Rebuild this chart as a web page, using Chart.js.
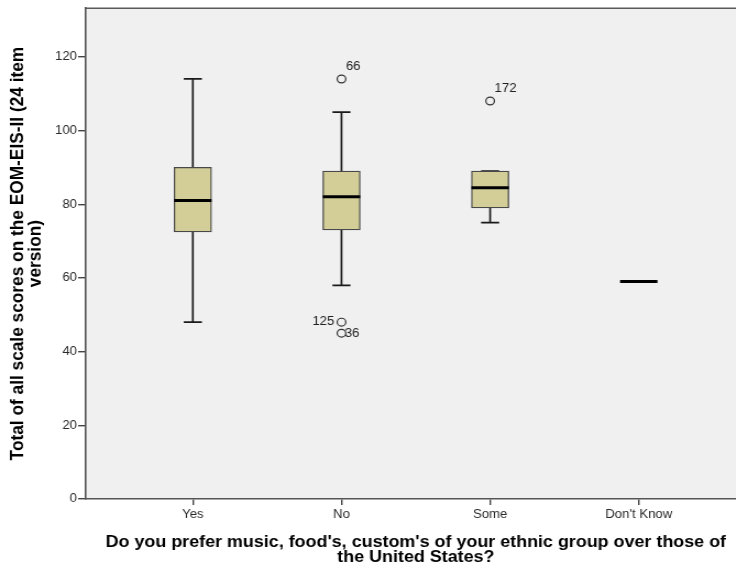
<!DOCTYPE html>
<html>
<head>
<meta charset="utf-8">
<script src="https://cdn.jsdelivr.net/npm/chart.js@4/dist/chart.umd.min.js"></script>
<style>
  html, body { margin: 0; padding: 0; background: #ffffff; overflow: hidden; }
  body { width: 736px; height: 569px; }
  /* the figure is drawn on a narrower canvas and widened horizontally */
  #frame { width: 678px; height: 569px; transform: scaleX(1.1); transform-origin: 0 0; }
  #chart { display: block; }
</style>
</head>
<body>
<div id="frame"><canvas id="chart" width="678" height="569"></canvas></div>
<script>
// Groups on the category axis
const categories = ['Yes', 'No', 'Some', "Don't Know"];

// Five-number summaries per group
const whiskerLow  = [48, 58, 75, 59];
const boxLow      = [72.5, 73, 79, 59];
const medians     = [81, 82, 84.5, 59];
const boxHigh     = [90, 89, 89, 59];
const whiskerHigh = [114, 105, 89, 59];

// Outlying cases: group index, score and case number
const outlierGroup  = [1, 1, 1, 2];
const outlierValues = [114, 48, 45, 108];
const outlierIds    = ['66', '125', '36', '172'];

// Tick labels of the value axis
const yTickValues = [0, 20, 40, 60, 80, 100, 120];

const yTitle = ['Total of all scale scores on the EOM-EIS-II (24 item', 'version)'];
const xTitle = ["Do you prefer music, food's, custom's of your ethnic group over those of", 'the United States?'];

Chart.defaults.font.family = "'Liberation Sans', Arial, Helvetica, sans-serif";
Chart.defaults.color = '#222222';

const BOX_FILL = '#d3ce97';
const LINE = '#1a1a1a';

// Boxes (q1..q3) as floating bars; groups without spread get no box
const boxData = categories
  .map((c, i) => (boxHigh[i] > boxLow[i] ? { x: i, y: [boxLow[i], boxHigh[i]] } : null))
  .filter(d => d !== null);

// Whisker stems from minimum to maximum, drawn underneath the boxes
const whiskerSets = categories.map((c, i) => ({
  type: 'line',
  data: [{ x: i, y: whiskerLow[i] }, { x: i, y: whiskerHigh[i] }],
  borderColor: LINE,
  borderWidth: 1.7,
  pointRadius: 0,
  fill: false,
  order: 6
}));

const capData = [];
categories.forEach((c, i) => {
  capData.push({ x: i, y: whiskerLow[i] });
  capData.push({ x: i, y: whiskerHigh[i] });
});

const outlierData = outlierValues.map((v, k) => ({ x: outlierGroup[k], y: v }));

// Case-number labels beside the outliers
const outlierPlacement = ['aboveRight', 'left', 'right', 'aboveRight'];

const plotFrame = {
  id: 'plotFrame',
  beforeDraw(chart) {
    const { ctx, chartArea: { left, top, right, bottom } } = chart;
    ctx.save();
    ctx.fillStyle = '#f0f0f0';
    ctx.fillRect(left, top, right - left, bottom - top);
    ctx.strokeStyle = '#5a5a5a';
    ctx.lineWidth = 1.6;
    ctx.beginPath();
    ctx.moveTo(left, top);
    ctx.lineTo(right, top);
    ctx.stroke();
    ctx.restore();
  }
};

const caseLabels = {
  id: 'caseLabels',
  afterDatasetsDraw(chart) {
    const idx = chart.data.datasets.findIndex(d => d.label === 'outliers');
    if (idx < 0) return;
    const meta = chart.getDatasetMeta(idx);
    const { ctx } = chart;
    ctx.save();
    ctx.font = "12px 'Liberation Sans', Arial, sans-serif";
    ctx.fillStyle = '#222222';
    ctx.textBaseline = 'middle';
    meta.data.forEach((pt, k) => {
      const place = outlierPlacement[k];
      let x = pt.x, y = pt.y;
      if (place === 'aboveRight') { ctx.textAlign = 'left'; x += 4; y -= 12.5; }
      else if (place === 'left') { ctx.textAlign = 'right'; x -= 6.5; }
      else { ctx.textAlign = 'left'; x += 3; }
      ctx.fillText(outlierIds[k], x, y);
    });
    ctx.restore();
  }
};

new Chart(document.getElementById('chart'), {
  type: 'scatter',
  data: {
    datasets: [
      ...whiskerSets,
      {
        type: 'scatter',
        label: 'caps',
        data: capData,
        pointStyle: 'line',
        pointRadius: 8.2,
        borderColor: LINE,
        borderWidth: 1.7,
        order: 5
      },
      {
        type: 'bar',
        label: 'boxes',
        data: boxData,
        backgroundColor: BOX_FILL,
        borderColor: '#484848',
        borderWidth: 1.3,
        borderSkipped: false,
        barThickness: 34,
        order: 4
      },
      {
        type: 'scatter',
        label: 'medians',
        data: medians.map((m, i) => ({ x: i, y: m })),
        pointStyle: 'line',
        pointRadius: 17,
        borderColor: '#000000',
        borderWidth: 3,
        order: 3
      },
      {
        type: 'scatter',
        label: 'outliers',
        data: outlierData,
        pointStyle: 'circle',
        pointRadius: 3.9,
        borderColor: '#333333',
        borderWidth: 1.2,
        backgroundColor: '#f0f0f0',
        order: 1
      }
    ]
  },
  options: {
    responsive: false,
    animation: false,
    devicePixelRatio: 1,
    events: [],
    layout: { autoPadding: false, padding: { top: 6, left: 0, right: 0, bottom: 0 } },
    plugins: { legend: { display: false }, tooltip: { enabled: false } },
    scales: {
      x: {
        type: 'linear',
        min: -0.72,
        max: 3.72,
        offset: false,
        afterFit(scale) { scale.height = 70; },
        grid: { drawOnChartArea: false, drawTicks: true, tickLength: 6, color: '#444444', lineWidth: 1.4, offset: false },
        border: { display: true, color: '#555555', width: 1.6 },
        ticks: {
          stepSize: 1,
          includeBounds: false,
          padding: 2.5,
          autoSkip: false,
          maxRotation: 0,
          font: { size: 12 },
          color: '#2a2a2a',
          callback: v => (Number.isInteger(v) && categories[v] !== undefined ? categories[v] : '')
        },
        title: {
          display: true,
          text: xTitle,
          color: '#000000',
          font: { size: 16.3, weight: 'bold', lineHeight: 0.92 },
          padding: { top: 0, bottom: 3.5 }
        }
      },
      y: {
        type: 'linear',
        min: 0,
        max: 133.2,
        afterFit(scale) { scale.width = 78; },
        afterBuildTicks(scale) { scale.ticks = yTickValues.map(v => ({ value: v })); },
        grid: { drawOnChartArea: false, drawTicks: true, tickLength: 7, color: '#444444', lineWidth: 1.4 },
        border: { display: true, color: '#555555', width: 1.6 },
        ticks: {
          padding: 1,
          includeBounds: false,
          font: { size: 12 },
          color: '#2a2a2a'
        },
        title: {
          display: true,
          text: yTitle,
          color: '#000000',
          font: { size: 17.3, weight: 'bold', lineHeight: 0.9 },
          padding: { top: 8.9, bottom: 0 }
        }
      }
    }
  },
  plugins: [plotFrame, caseLabels]
});
</script>
</body>
</html>
